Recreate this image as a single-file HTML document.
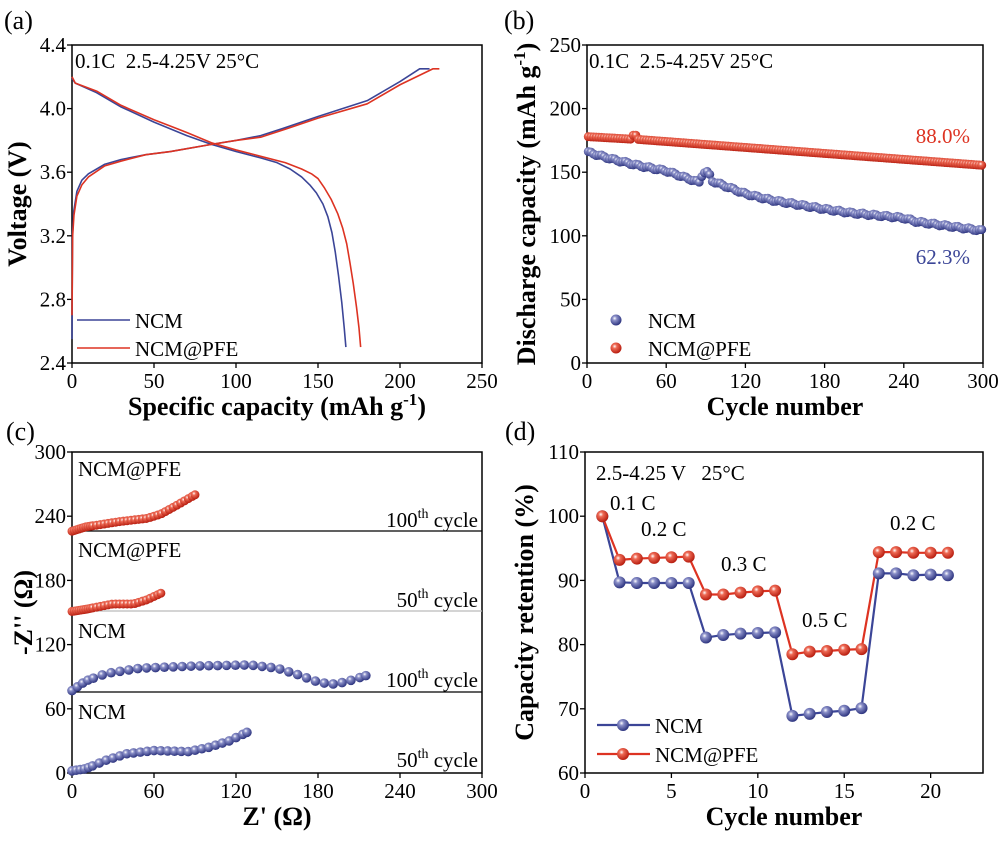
<!DOCTYPE html>
<html><head><meta charset="utf-8"><style>
body{margin:0;background:#fff}
svg text{font-family:"Liberation Serif",serif;white-space:pre}
</style></head><body>
<svg id="s" width="1000" height="837" xmlns="http://www.w3.org/2000/svg">
<defs>
<radialGradient id="gb" cx="0.38" cy="0.35" r="0.65"><stop offset="0" stop-color="#fff"/><stop offset="0.3" stop-color="#8a8fc8"/><stop offset="1" stop-color="#2e3580"/></radialGradient>
<radialGradient id="gr" cx="0.38" cy="0.35" r="0.65"><stop offset="0" stop-color="#fff"/><stop offset="0.3" stop-color="#ee6a55"/><stop offset="1" stop-color="#b81e10"/></radialGradient>
</defs>
<g id="g"></g>
</svg>
<script>
const g=document.getElementById('g');let h='';
const BL='#3b4597',RD='#dd3322';
function ax(L,R,T,B,x0,x1,y0,y1){return{X:v=>L+(v-x0)/(x1-x0)*(R-L),Y:v=>B-(v-y0)/(y1-y0)*(B-T),L,R,T,B};}
function frame(a,xt,yt,xl,yl,xlab,ylab,ylx,fmt){
 h+=`<rect x="${a.L}" y="${a.T}" width="${a.R-a.L}" height="${a.B-a.T}" fill="none" stroke="#000" stroke-width="1.5"/>`;
 xt.forEach(v=>{let x=a.X(v);h+=`<line x1="${x}" y1="${a.B}" x2="${x}" y2="${a.B+5}" stroke="#000" stroke-width="1.3"/><text x="${x}" y="${a.B+25}" font-size="21" text-anchor="middle">${v}</text>`});
 yt.forEach(v=>{let y=a.Y(v);h+=`<line x1="${a.L-5}" y1="${y}" x2="${a.L}" y2="${y}" stroke="#000" stroke-width="1.3"/><text x="${a.L-6}" y="${y+7}" font-size="21" text-anchor="end">${fmt?v.toFixed(1):v}</text>`});
 h+=`<text x="${(a.L+a.R)/2}" y="${a.B+52}" font-size="26" font-weight="bold" text-anchor="middle">${xlab}</text>`;
 h+=`<text transform="translate(${ylx},${(a.T+a.B)/2}) rotate(-90)" font-size="26" font-weight="bold" text-anchor="middle">${ylab}</text>`;
}
function line(a,pts,c,w){h+=`<polyline fill="none" stroke="${c}" stroke-width="${w||1.6}" stroke-linejoin="round" points="${pts.map(p=>a.X(p[0])+','+a.Y(p[1])).join(' ')}"/>`;}
function dots(a,pts,grad,r){pts.forEach(p=>{h+=`<circle cx="${a.X(p[0])}" cy="${a.Y(p[1])}" r="${r}" fill="url(#${grad})"/>`});}
function interp(k,x){for(let i=0;i<k.length-1;i++){if(x<=k[i+1][0]){let t=(x-k[i][0])/(k[i+1][0]-k[i][0]);return k[i][1]+t*(k[i+1][1]-k[i][1]);}}return k[k.length-1][1];}
// (a)
let A=ax(72,482,45,363,0,250,2.4,4.4);
h+=`<text x="4" y="29" font-size="26">(a)</text>`;
frame(A,[0,50,100,150,200,250],[2.4,2.8,3.2,3.6,4.0,4.4],0,0,'Specific capacity (mAh g<tspan dy="-10" font-size="17">-1</tspan><tspan dy="10">)</tspan>','Voltage (V)',26,true);
h+=`<text x="75" y="68" font-size="21">0.1C  2.5-4.25V 25°C</text>`;
line(A,[[0,2.55],[0.3,3.2],[1,3.35],[3,3.48],[6,3.55],[10,3.59],[20,3.65],[30,3.68],[45,3.71],[60,3.73],[85,3.775],[100,3.80],[115,3.83],[130,3.88],[150,3.95],[180,4.05],[200,4.17],[212,4.25],[218,4.25]],BL);
line(A,[[0,4.19],[2,4.16],[15,4.1],[30,4.01],[50,3.915],[70,3.83],[85,3.775],[100,3.73],[115,3.69],[125,3.66],[133,3.62],[140,3.57],[145,3.52],[149,3.47],[153,3.4],[156,3.32],[158.5,3.22],[160.5,3.1],[162.5,2.95],[164.5,2.78],[166,2.62],[167,2.5]],BL);
line(A,[[0,2.7],[0.4,3.2],[1.2,3.33],[3,3.45],[6,3.52],[10,3.57],[20,3.64],[30,3.67],[45,3.71],[60,3.73],[85,3.775],[100,3.80],[115,3.82],[130,3.87],[150,3.94],[180,4.03],[200,4.15],[220,4.25],[224,4.25]],RD);
line(A,[[0,4.2],[2,4.16],[15,4.11],[30,4.02],[50,3.93],[70,3.85],[85,3.785],[100,3.74],[115,3.70],[130,3.66],[140,3.62],[146,3.59],[150,3.56],[154,3.5],[158,3.43],[162,3.34],[165,3.25],[167.5,3.15],[169.5,3.03],[171.5,2.9],[173.5,2.75],[175,2.62],[176,2.5]],RD);
h+=`<line x1="77" y1="320" x2="130" y2="320" stroke="${BL}" stroke-width="1.6"/><text x="135" y="328" font-size="21">NCM</text>`;
h+=`<line x1="77" y1="348" x2="130" y2="348" stroke="${RD}" stroke-width="1.6"/><text x="135" y="356" font-size="21">NCM@PFE</text>`;
// (b)
let Bx=ax(587,983,45,363,0,300,0,250);
h+=`<text x="504" y="29" font-size="26">(b)</text>`;
frame(Bx,[0,60,120,180,240,300],[0,50,100,150,200,250],0,0,'Cycle number','Discharge capacity (mAh g<tspan dy="-10" font-size="17">-1</tspan><tspan dy="10">)</tspan>',535,false);
h+=`<text x="589" y="68" font-size="21">0.1C  2.5-4.25V 25°C</text>`;
let pr=[],nb=[];
const nk=[[0,166],[20,160],[40,155],[60,151],[85,142],[88,150],[92,150],[95,143],[120,133],[140,128],[180,121],[200,118],[240,114],[250,111],[300,104]];
for(let c=1;c<=300;c+=2){pr.push([c,(c>=34&&c<=38)?179:(c<36?178-c*0.06:176-(c-36)*0.078)]);nb.push([c,interp(nk,c)+Math.sin(c*0.7)*0.8]);}
dots(Bx,pr,'gr',4.5);dots(Bx,nb,'gb',4.5);
h+=`<text x="970" y="143" font-size="21" fill="${RD}" text-anchor="end">88.0%</text>`;
h+=`<text x="970" y="264" font-size="21" fill="${BL}" text-anchor="end">62.3%</text>`;
h+=`<circle cx="616" cy="320" r="5.5" fill="url(#gb)"/><text x="648" y="328" font-size="21">NCM</text>`;
h+=`<circle cx="616" cy="348" r="5.5" fill="url(#gr)"/><text x="648" y="356" font-size="21">NCM@PFE</text>`;
// (c)
let C=ax(72,482,452,773,0,300,0,300);
h+=`<text x="6" y="440" font-size="26">(c)</text>`;
frame(C,[0,60,120,180,240,300],[0,60,120,180,240,300],0,0,'Z\' (Ω)','-Z\'\' (Ω)',32,false);
h+=`<line x1="72" y1="531" x2="482" y2="531" stroke="#000" stroke-width="1.3"/><line x1="72" y1="611" x2="482" y2="611" stroke="#bbb" stroke-width="1.3"/><line x1="72" y1="692" x2="482" y2="692" stroke="#000" stroke-width="1.3"/>`;
[[476,'NCM@PFE'],[557,'NCM@PFE'],[638,'NCM'],[719,'NCM']].forEach(t=>h+=`<text x="78" y="${t[0]}" font-size="21">${t[1]}</text>`);
[[527,'100'],[607,'50'],[687,'100'],[767,'50']].forEach(t=>h+=`<text x="478" y="${t[0]}" font-size="21" text-anchor="end">${t[1]}<tspan dy="-9" font-size="14">th</tspan><tspan dy="9"> cycle</tspan></text>`);
function arc(k,step){let o=[],x=k[0][0];while(x<=k[k.length-1][0]){o.push([x,interp(k,x)]);x+=step*(x<15?0.6:1);}o.push(k[k.length-1]);return o;}
dots(C,arc([[0,226],[10,230],[35,235],[55,238],[65,242],[75,249],[90,260]],2.8),'gr',4.5);
dots(C,arc([[0,151],[10,153],[30,158],[45,158],[55,162],[65,168]],2.8),'gr',4.5);
dots(C,arc([[0,77],[10,86],[25,93],[50,98],[90,100],[130,101],[150,98],[165,92],[180,85],[190,83],[200,85],[215,91]],6.5),'gb',4.8);
dots(C,arc([[0,2],[10,4],[25,12],[40,18],[60,21],[85,20],[100,24],[115,30],[128,38]],5),'gb',4.8);
// (d)
let D=ax(585,983,452,773,0,23.03,60,110);
h+=`<text x="505" y="440" font-size="26">(d)</text>`;
frame(D,[0,5,10,15,20],[60,70,80,90,100,110],0,0,'Cycle number','Capacity retention (%)',533,false);
h+=`<text x="596" y="480" font-size="21">2.5-4.25 V   25°C</text>`;
[[610,510,'0.1 C'],[641,536,'0.2 C'],[721,571,'0.3 C'],[802,627,'0.5 C'],[890,530,'0.2 C']].forEach(t=>h+=`<text x="${t[0]}" y="${t[1]}" font-size="21">${t[2]}</text>`);
const nd=[100,89.7,89.6,89.6,89.6,89.6,81.1,81.5,81.7,81.8,81.9,68.9,69.2,69.5,69.7,70.1,91.1,91.1,90.8,90.9,90.8].map((v,i)=>[i+1,v]);
const rd=[100,93.2,93.4,93.5,93.6,93.7,87.8,87.8,88.1,88.3,88.4,78.5,78.9,79.0,79.2,79.3,94.4,94.4,94.3,94.3,94.3].map((v,i)=>[i+1,v]);
line(D,nd,BL,2.2);line(D,rd,RD,2.2);dots(D,nd,'gb',6);dots(D,rd,'gr',6);
h+=`<line x1="597" y1="725" x2="650" y2="725" stroke="${BL}" stroke-width="2.2"/><circle cx="623" cy="725" r="6" fill="url(#gb)"/><text x="655" y="733" font-size="21">NCM</text>`;
h+=`<line x1="597" y1="754" x2="650" y2="754" stroke="${RD}" stroke-width="2.2"/><circle cx="623" cy="754" r="6" fill="url(#gr)"/><text x="655" y="762" font-size="21">NCM@PFE</text>`;
g.innerHTML=h;
</script>
</body></html>
